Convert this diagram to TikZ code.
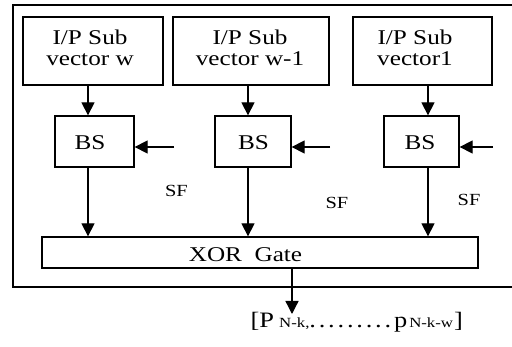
\documentclass[tikz,border=0pt]{standalone}
\usepackage{fontspec}
\setmainfont{Liberation Serif}[FakeStretch=1.2]
\usetikzlibrary{arrows.meta}
\newcommand{\dotrun}{\makebox[9.4pt][l]{.}}
\begin{document}
\begin{tikzpicture}[x=1pt,y=-1pt,
  line width=1.3pt,
  blk/.style={draw, line width=1.3pt, inner sep=0pt},
  inbox/.style={blk, minimum width=140pt, minimum height=68pt},
  bsbox/.style={blk, minimum width=76pt, minimum height=51pt},
  txt/.style={inner sep=0pt, align=center, font=\fontsize{21}{21}\selectfont},
  lbl/.style={inner sep=0pt, font=\fontsize{17}{17}\selectfont},
  arr/.style={-{Triangle[length=13pt,width=13pt]}, line width=1.3pt}]
\useasboundingbox (0,0) rectangle (512,347);

% enclosing frame (open on the right)
\draw (530,5) -- (13,5) -- (13,287) -- (530,287);

% input sub-vectors
\node[inbox] (in1) at (93,51) {};
\node[inbox, minimum width=156pt] (in2) at (251,51) {};
\node[inbox, minimum width=139pt] (in3) at (422.5,51) {};
\node[txt] (in1t) at (90,47.5) {I/P Sub\\vector w};
\node[txt] (in2t) at (250,47.5) {I/P Sub\\vector w-1};
\node[txt] (in3t) at (415,47.5) {I/P Sub\\vector1};

% barrel shifters
\node[bsbox, minimum width=79pt] (bs1) at (94.5,141.5) {};
\node[bsbox] (bs2) at (253,141.5) {};
\node[bsbox, minimum width=75pt] (bs3) at (421.5,141.5) {};
\node[txt] (bs1t) at (90,142.5) {BS};
\node[txt] (bs2t) at (253.5,142.5) {BS};
\node[txt] (bs3t) at (420,142.5) {BS};

% XOR stage
\node[blk, minimum width=436pt, minimum height=31pt] (xor) at (260,252.5) {};
\node[txt, anchor=base] (xortext) at (245.5,262) {XOR\ \ Gate};

% shift-factor labels
\node[lbl] (sf1) at (176.5,191) {SF};
\node[lbl] (sf2) at (337,202.5) {SF};
\node[lbl] (sf3) at (469,199.5) {SF};

% output word
\node[inner sep=0pt, anchor=base west, font=\fontsize{22}{22}\selectfont] (out) at (250,328)
  {[P\hspace{5pt}{\fontsize{14}{14}\selectfont N-k,}\dotrun\dotrun\dotrun\dotrun\dotrun\dotrun\dotrun\dotrun\dotrun p\hspace{2pt}{\fontsize{14}{14}\selectfont N-k-w}\hspace{1pt}]};

% column positions and free ends
\coordinate (c1) at (88,0);
\coordinate (c2) at (248,0);
\coordinate (c3) at (428,0);
\coordinate (c4) at (292,0);
\coordinate (s1) at (174,147);
\coordinate (s2) at (330,147);
\coordinate (s3) at (493,147);
\coordinate (oe) at (292,314);

% input vectors into shifters
\draw[arr] (c1 |- in1.south) -- (c1 |- bs1.north);
\draw[arr] (c2 |- in2.south) -- (c2 |- bs2.north);
\draw[arr] (c3 |- in3.south) -- (c3 |- bs3.north);

% shift factors
\draw[arr] (s1) -- (s1 -| bs1.east);
\draw[arr] (s2) -- (s2 -| bs2.east);
\draw[arr] (s3) -- (s3 -| bs3.east);

% shifters into XOR
\draw[arr] (c1 |- bs1.south) -- (c1 |- xor.north);
\draw[arr] (c2 |- bs2.south) -- (c2 |- xor.north);
\draw[arr] (c3 |- bs3.south) -- (c3 |- xor.north);

% result
\draw[arr] (c4 |- xor.south) -- (oe);
\end{tikzpicture}
\end{document}
